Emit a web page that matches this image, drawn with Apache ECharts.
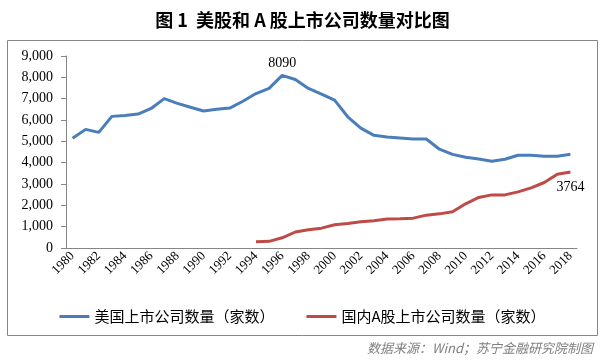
<!DOCTYPE html>
<html><head><meta charset="utf-8">
<script src="https://cdn.jsdelivr.net/npm/echarts@6/dist/echarts.min.js"></script>
<style>html,body{margin:0;padding:0;background:#fff}#c{width:605px;height:360px}</style>
</head><body><div id="c"></div>
<script>
var years = [];
for (var y = 1980; y <= 2018; y++) years.push(String(y));
var usListed = [5140,5560,5420,6170,6210,6280,6540,7000,6780,6600,6420,6500,6560,6880,7240,7480,8090,7900,7480,7210,6930,6150,5620,5280,5200,5160,5110,5110,4630,4390,4250,4170,4070,4160,4350,4350,4300,4300,4390];
var cnListed = [null,null,null,null,null,null,null,null,null,null,null,null,null,null,291,311,480,750,860,930,1090,1150,1230,1280,1360,1370,1400,1540,1600,1700,2070,2370,2490,2490,2630,2820,3070,3460,3560];
var yTicks = [0,1000,2000,3000,4000,5000,6000,7000,8000,9000];
var usPeakLabel = '8090';
var cnEndLabel = '3764';
var titleText = '图 1  美股和 A 股上市公司数量对比图';
var usName = '美国上市公司数量（家数）';
var cnName = '国内A股上市公司数量（家数）';
var sourceText = '数据来源：Wind；苏宁金融研究院制图';

var serif = '"Liberation Serif","Times New Roman",serif';
var cjk = '"Noto Sans CJK SC",sans-serif';
var chart = echarts.init(document.getElementById('c'));
chart.setOption({
  animation: false,
  backgroundColor: '#fff',
  title: {
    text: titleText, left: 'center', top: 6,
    textStyle: {fontFamily: cjk, fontSize: 18, fontWeight: 'bold', color: '#000'}
  },
  graphic: [
    {type: 'rect', shape: {x: 7.5, y: 40.5, width: 590, height: 295}, style: {fill: 'none', stroke: '#868686', lineWidth: 1}, z: -1},
    {type: 'text', right: 12, top: 342, style: {text: sourceText, font: 'italic 13px ' + cjk, fill: '#7f7f7f'}}
  ],
  legend: {
    top: 304, left: 'center', itemGap: 32, itemWidth: 30, itemHeight: 3,
    icon: 'rect',
    textStyle: {fontFamily: cjk, fontSize: 15, color: '#000'},
    data: [usName, cnName]
  },
  grid: {left: 66, right: 28, top: 56, bottom: 112},
  xAxis: {
    type: 'category', data: years, boundaryGap: true,
    axisLine: {lineStyle: {color: '#868686'}},
    axisTick: {interval: 0, length: 5, lineStyle: {color: '#868686'}},
    axisLabel: {interval: 1, rotate: 45, fontFamily: serif, fontSize: 13, color: '#000', margin: 6}
  },
  yAxis: {
    type: 'value', min: yTicks[0], max: yTicks[yTicks.length-1], interval: 1000,
    splitLine: {show: false},
    axisLine: {show: true, lineStyle: {color: '#868686'}},
    axisTick: {show: true, length: 5, lineStyle: {color: '#868686'}},
    axisLabel: {fontFamily: serif, fontSize: 14, color: '#000', margin: 13,
      formatter: function(v){ return v === 0 ? '0' : v.toLocaleString('en-US'); }}
  },
  series: [
    {
      name: usName, type: 'line', symbol: 'circle', symbolSize: 0, showSymbol: true,
      data: usListed.map(function(v, i){
        return v === 8090 ? {value: v, label: {show: true, position: 'top', formatter: usPeakLabel, fontFamily: serif, fontSize: 14, color: '#000', distance: 5}} : v;
      }),
      lineStyle: {width: 3, color: '#4a7ebb'}, itemStyle: {color: '#4a7ebb'}
    },
    {
      name: cnName, type: 'line', symbol: 'circle', symbolSize: 0, showSymbol: true,
      data: cnListed.map(function(v, i){
        return i === cnListed.length - 1 ? {value: v, label: {show: true, position: 'bottom', formatter: cnEndLabel, fontFamily: serif, fontSize: 14, color: '#000', distance: 8}} : v;
      }),
      lineStyle: {width: 3, color: '#be4b48'}, itemStyle: {color: '#be4b48'}
    }
  ]
});
</script></body></html>
